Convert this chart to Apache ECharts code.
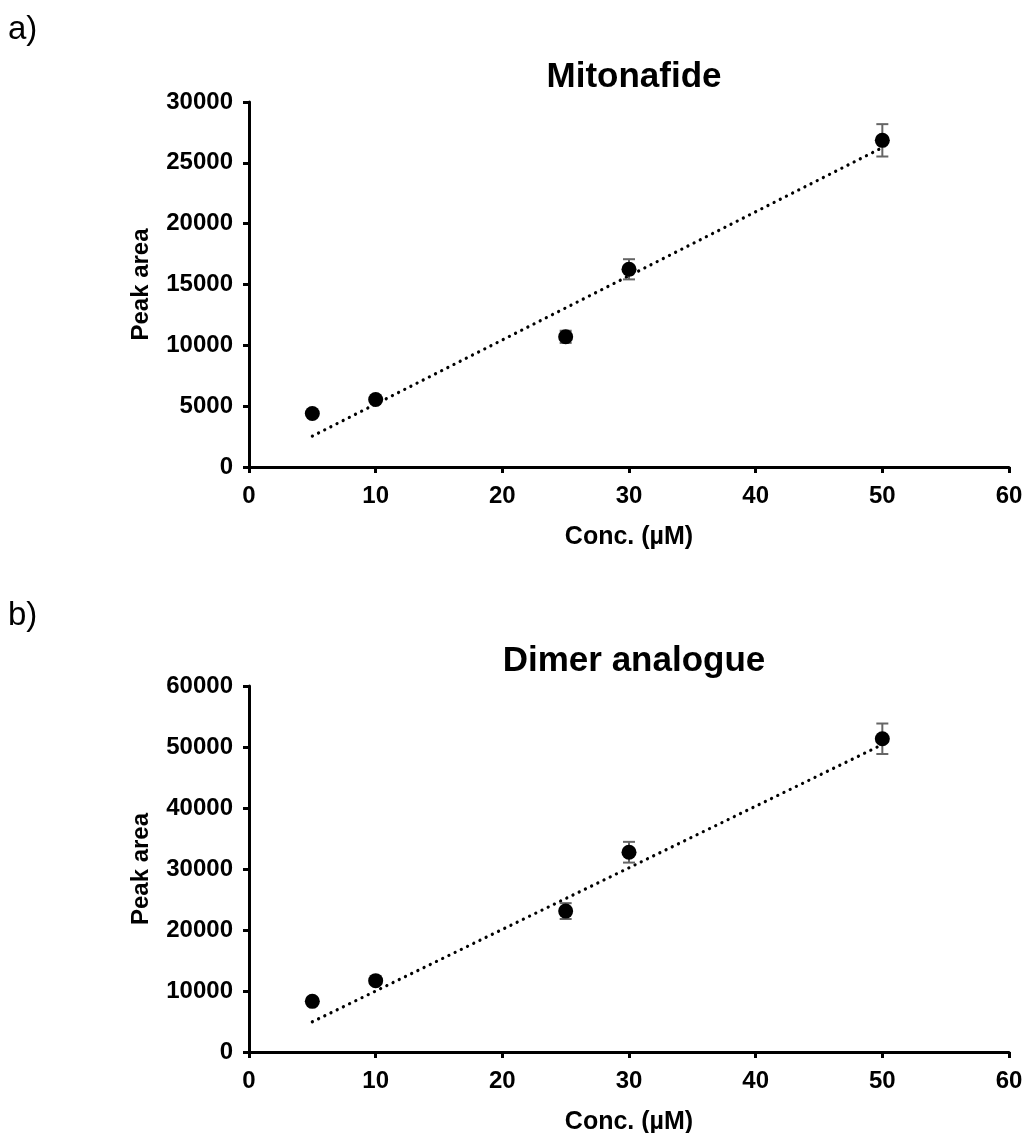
<!DOCTYPE html>
<html>
<head>
<meta charset="utf-8">
<script src="https://cdn.jsdelivr.net/npm/echarts@6/dist/echarts.min.js"></script>
<style>
  html, body { margin: 0; padding: 0; background: #fff; }
  #chart { width: 1025px; height: 1133px; }
</style>
</head>
<body>
<div id="chart"></div>
<script>
// data
const conc = [5, 10, 25, 30, 50]
const mitoArea = [4400, 5550, 10700, 16250, 26850]
const mitoErr = [150, 150, 500, 830, 1330]
const dimerArea = [8300, 11700, 23100, 32750, 51350]
const dimerErr = [300, 300, 1300, 1700, 2500]
// dotted trend line end points
const trendX = [5, 50]
const mitoTrend = [2540, 26250]
const dimerTrend = [4950, 50400]

const font = 'Liberation Sans, Arial, sans-serif'

const chart = echarts.init(document.getElementById('chart'), null, { renderer: 'canvas' })

const pairs = (xs, ys) => xs.map((x, i) => [x, ys[i]])
const errData = (ys, es) => conc.map((x, i) => [x, ys[i] - es[i], ys[i] + es[i]])

const errSeries = (idx, ys, es) => ({
  type: 'custom',
  xAxisIndex: idx,
  yAxisIndex: idx,
  z: 2,
  data: errData(ys, es),
  renderItem: (params, api) => {
    const lo = api.coord([api.value(0), api.value(1)])
    const hi = api.coord([api.value(0), api.value(2)])
    const w = 6
    const style = { stroke: '#666', lineWidth: 2, fill: null }
    return {
      type: 'group',
      children: [
        { type: 'line', shape: { x1: lo[0], y1: lo[1], x2: hi[0], y2: hi[1] }, style },
        { type: 'line', shape: { x1: lo[0] - w, y1: lo[1], x2: lo[0] + w, y2: lo[1] }, style },
        { type: 'line', shape: { x1: hi[0] - w, y1: hi[1], x2: hi[0] + w, y2: hi[1] }, style }
      ]
    }
  }
})

const trendSeries = (idx, ys) => ({
  type: 'line',
  xAxisIndex: idx,
  yAxisIndex: idx,
  z: 1,
  symbol: 'none',
  data: pairs(trendX, ys),
  lineStyle: { color: '#000', width: 3.2, type: [0.1, 6.8], cap: 'round' },
  silent: true
})

const dotSeries = (idx, ys) => ({
  type: 'scatter',
  xAxisIndex: idx,
  yAxisIndex: idx,
  z: 3,
  symbol: 'circle',
  symbolSize: 15,
  itemStyle: { color: '#000', opacity: 1 },
  data: pairs(conc, ys)
})

const xAxisOf = (idx) => ({
  type: 'value',
  gridIndex: idx,
  min: 0, max: 60, interval: 10,
  name: 'Conc. (µM)',
  nameLocation: 'middle',
  nameGap: 58,
  nameTextStyle: { fontFamily: font, fontWeight: 'bold', fontSize: 25, color: '#000' },
  axisLine: { lineStyle: { color: '#000', width: 3 } },
  axisTick: { show: true, length: 6, lineStyle: { color: '#000', width: 3 } },
  axisLabel: { fontFamily: font, fontWeight: 'bold', fontSize: 24, color: '#000', margin: 17 },
  splitLine: { show: false }
})

const yAxisOf = (idx, max, interval) => ({
  type: 'value',
  gridIndex: idx,
  min: 0, max, interval,
  name: 'Peak area',
  nameLocation: 'middle',
  nameRotate: 90,
  nameGap: 96,
  nameTextStyle: { fontFamily: font, fontWeight: 'bold', fontSize: 24, color: '#000' },
  axisLine: { show: true, lineStyle: { color: '#000', width: 3 } },
  axisTick: { show: true, length: 6, lineStyle: { color: '#000', width: 3 } },
  axisLabel: { fontFamily: font, fontWeight: 'bold', fontSize: 24, color: '#000', margin: 16, formatter: v => String(v) },
  splitLine: { show: false }
})

const option = {
  backgroundColor: '#fff',
  animation: false,
  title: [
    { text: 'a)', left: 3, top: 8, textStyle: { fontFamily: font, fontWeight: 'normal', fontSize: 33, color: '#000' } },
    { text: 'Mitonafide', left: 629, top: 55, textAlign: 'center', textStyle: { fontFamily: font, fontWeight: 'bold', fontSize: 35, color: '#000' } },
    { text: 'b)', left: 3, top: 594, textStyle: { fontFamily: font, fontWeight: 'normal', fontSize: 33, color: '#000' } },
    { text: 'Dimer analogue', left: 629, top: 639, textAlign: 'center', textStyle: { fontFamily: font, fontWeight: 'bold', fontSize: 35, color: '#000' } }
  ],
  grid: [
    { left: 249, right: 16, top: 102, height: 365, outerBoundsMode: 'none' },
    { left: 249, right: 16, top: 686, height: 366, outerBoundsMode: 'none' }
  ],
  xAxis: [xAxisOf(0), xAxisOf(1)],
  yAxis: [yAxisOf(0, 30000, 5000), yAxisOf(1, 60000, 10000)],
  series: [
    trendSeries(0, mitoTrend),
    errSeries(0, mitoArea, mitoErr),
    dotSeries(0, mitoArea),
    trendSeries(1, dimerTrend),
    errSeries(1, dimerArea, dimerErr),
    dotSeries(1, dimerArea)
  ]
}

chart.setOption(option)
</script>
</body>
</html>
